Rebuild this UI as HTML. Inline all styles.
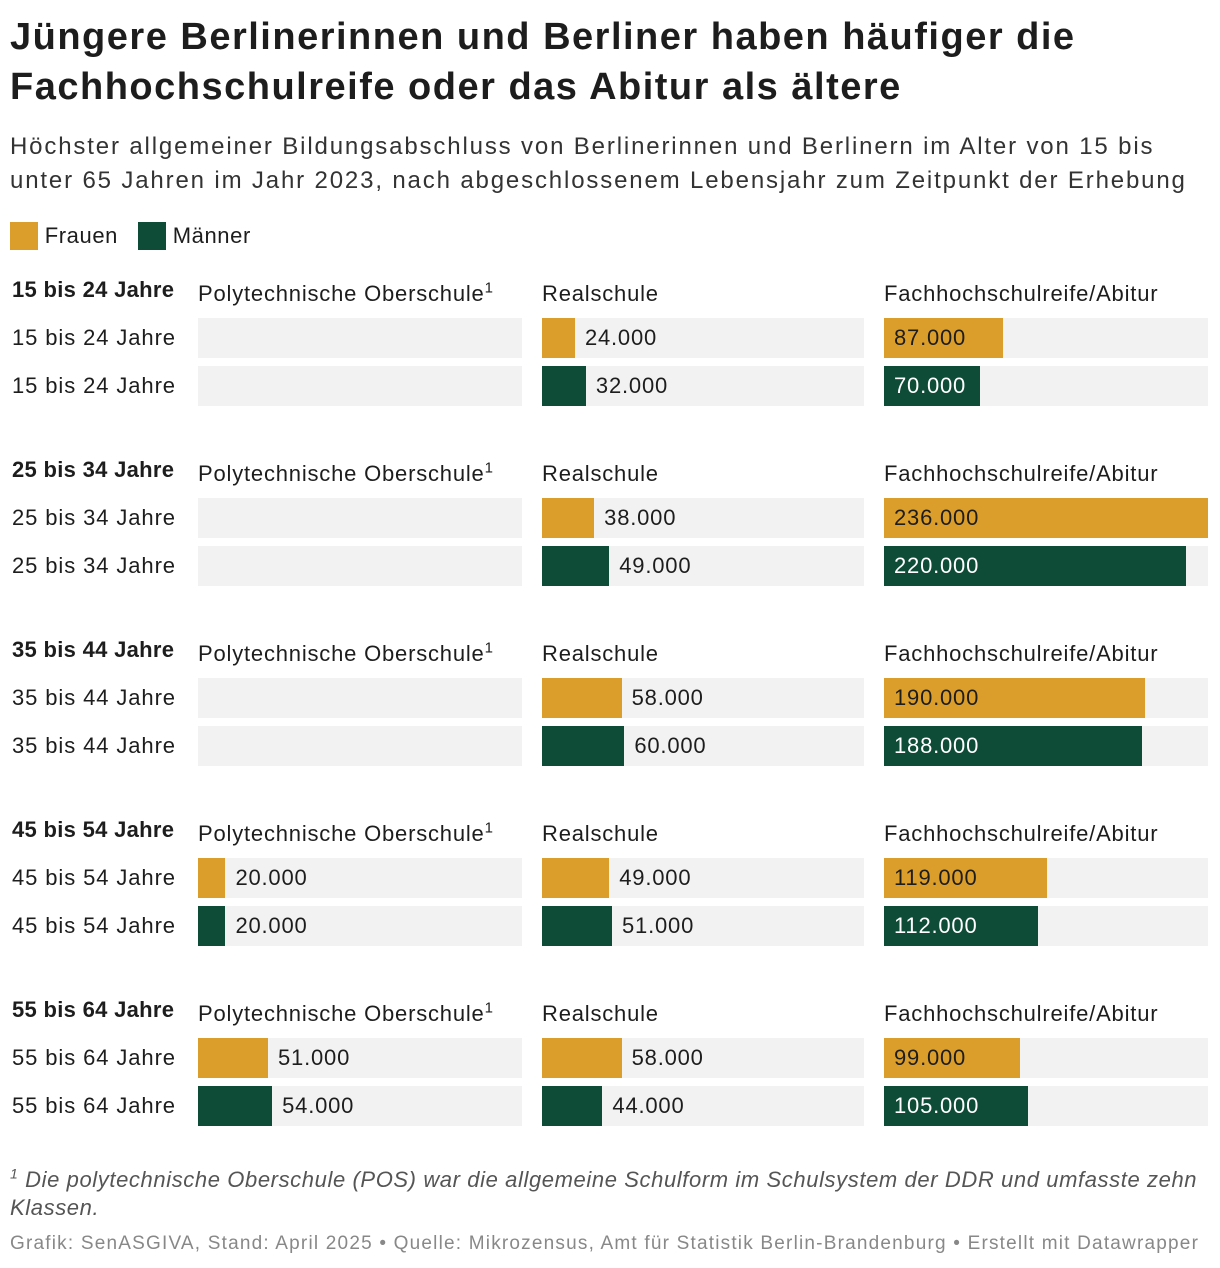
<!DOCTYPE html>
<html><head><meta charset="utf-8">
<style>
body{margin:0;width:1220px;height:1268px;background:#fff;font-family:"Liberation Sans",sans-serif;color:#1d1d1d;position:relative;overflow:hidden}
.abs{position:absolute;white-space:nowrap}
sup{line-height:0;vertical-align:super}
</style></head><body>
<div class="abs" style="left:10px;top:12px;font-size:38px;font-weight:bold;line-height:50px;letter-spacing:1.5px">Jüngere Berlinerinnen und Berliner haben häufiger die<br>Fachhochschulreife oder das Abitur als ältere</div>
<div class="abs" style="left:10px;top:130px;font-size:24px;line-height:34px;color:#333;letter-spacing:1.85px">Höchster allgemeiner Bildungsabschluss von Berlinerinnen und Berlinern im Alter von 15 bis<br>unter 65 Jahren im Jahr 2023, nach abgeschlossenem Lebensjahr zum Zeitpunkt der Erhebung</div>
<div class="abs" style="left:10px;top:222px;font-size:22px;line-height:28px;letter-spacing:0.6px"><span style="display:inline-block;width:28px;height:28px;background:#dc9e2b;vertical-align:top"></span> Frauen</div>
<div class="abs" style="left:138px;top:222px;font-size:22px;line-height:28px;letter-spacing:0.6px"><span style="display:inline-block;width:28px;height:28px;background:#0e4c38;vertical-align:top"></span> Männer</div>
<div id="chart"></div>
<div class="abs" style="left:10px;top:1166px;font-size:22px;line-height:28px;font-style:italic;color:#555;letter-spacing:0.6px"><sup style="font-size:14px">1</sup> Die polytechnische Oberschule (POS) war die allgemeine Schulform im Schulsystem der DDR und umfasste zehn<br>Klassen.</div>
<div class="abs" style="left:10px;top:1233px;font-size:19px;color:#888;letter-spacing:1.2px">Grafik: SenASGIVA, Stand: April 2025 • Quelle: Mikrozensus, Amt für Statistik Berlin-Brandenburg • Erstellt mit Datawrapper</div>
<script>
const groups=["15 bis 24 Jahre","25 bis 34 Jahre","35 bis 44 Jahre","45 bis 54 Jahre","55 bis 64 Jahre"];
const columns=["Polytechnische Oberschule","Realschule","Fachhochschulreife/Abitur"];
const frauenPOS=[0,0,0,20000,51000];
const maennerPOS=[0,0,0,20000,54000];
const frauenReal=[24000,38000,58000,49000,58000];
const maennerReal=[32000,49000,60000,51000,44000];
const frauenAbi=[87000,236000,190000,119000,99000];
const maennerAbi=[70000,220000,188000,112000,105000];
const maxVal=236000;
const colX=[198,542,884], colW=[324,322,324];
const chart=document.getElementById('chart');
function fmt(v){return v.toLocaleString('de-DE').replace(/,/g,'.');}
function x(v){return v/maxVal*324;}
function div(style,text){const d=document.createElement('div');d.className='abs';d.style.cssText=style;if(text!=null)d.textContent=text;chart.appendChild(d);return d;}
const series=[[frauenPOS,maennerPOS],[frauenReal,maennerReal],[frauenAbi,maennerAbi]];
groups.forEach((g,gi)=>{
  const y0=276+gi*180;
  const h=div(`left:12px;top:${y0}px;font-size:22px;font-weight:bold;line-height:28px;letter-spacing:0.3px`,g);
  
  
  columns.forEach((c,ci)=>{
    const ch=div(`left:${colX[ci]}px;top:${y0+4}px;font-size:22px;line-height:28px;letter-spacing:0.8px`,c);
    
    
    if(ci==0){const s=document.createElement('sup');s.textContent='1';s.style.fontSize='15px';ch.appendChild(s);}
  });
  [0,1].forEach(si=>{
    const by=318+gi*180+si*48;
    const rl=div(`left:12px;top:${by+6}px;font-size:22px;line-height:28px;letter-spacing:0.9px`,g);
    
    
    columns.forEach((c,ci)=>{
      const bg=div(`left:${colX[ci]}px;top:${by}px;width:${colW[ci]}px;height:40px;background:#f2f2f2`);
      
      
      const v=series[ci][si][gi];
      if(!v)return;
      const w=x(v);
      const b=div(`left:${colX[ci]}px;top:${by}px;width:${w}px;height:40px;background:${si?'#0e4c38':'#dc9e2b'}`);
      
      
      const inside=w>90;
      const l=div(`left:${colX[ci]+(inside?10:w+10)}px;top:${by+6}px;font-size:22px;line-height:28px;letter-spacing:0.8px;color:${inside&&si?'#fff':'#1d1d1d'}`,fmt(v));
      
      
    });
  });
});
</script>
</body></html>
